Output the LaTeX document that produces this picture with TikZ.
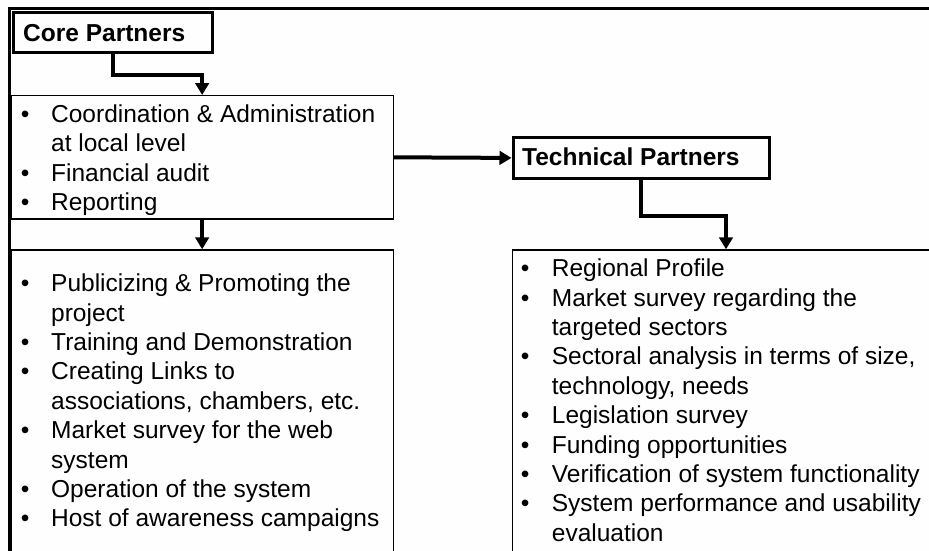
\documentclass[tikz,border=0pt]{standalone}
\usepackage{fontspec}
\setmainfont{Liberation Sans}
\usetikzlibrary{arrows.meta}
\definecolor{paper}{RGB}{254,254,254}
\tikzset{
  thinbox/.style={draw=black, line width=1.3pt, inner sep=0pt, anchor=north west},
  thickbox/.style={draw=black, line width=3pt, inner sep=0pt, anchor=north west},
  listtext/.style={inner sep=0pt, anchor=base west, font=\fontsize{24.5}{29.4}\selectfont},
  headtext/.style={inner sep=0pt, anchor=base west, font=\fontsize{24.5}{29.4}\selectfont\bfseries},
  conn/.style={line width=4pt, -{Triangle[length=12pt,width=13.5pt]}}
}
\begin{document}
\begin{tikzpicture}[x=1pt,y=1pt]
\useasboundingbox (0,0) rectangle (929,-550);
\fill[paper] (-10,10) rectangle (945,-570);
% outer frame
\draw[line width=3.5pt] (945,-8.5) -- (9.3,-8.5) -- (9.3,-570);
% boxes
\node[thickbox, minimum width=199pt, minimum height=40.3pt] (core) at (12,-11) {};
\node[thinbox, minimum width=382pt, minimum height=123.3pt] (coord) at (10.5,-95) {};
\node[thinbox, minimum width=382pt, minimum height=330pt] (ll) at (10.5,-249.3) {};
\node[thickbox, minimum width=256.5pt, minimum height=41.2pt] (tp) at (511.5,-135.8) {};
\node[thinbox, minimum width=427.3pt, minimum height=330pt] (rb) at (511.7,-249.3) {};
% headings
\node[headtext] (coretxt) at (23,-41.7) {Core Partners};
\node[headtext] (tptxt) at (522,-165) {Technical Partners};
% lists
\node[listtext] (coordtxt) at (20.7,-122.3) {\begin{tabular}[t]{@{}p{30.3pt}@{}l@{}}
\textbullet & Coordination \& Administration\\
 & at local level\\
\textbullet & Financial audit\\
\textbullet & Reporting
\end{tabular}};
\node[listtext] (lltxt) at (20.7,-291.7) {\begin{tabular}[t]{@{}p{30.3pt}@{}l@{}}
\textbullet & Publicizing \& Promoting the\\
 & project\\
\textbullet & Training and Demonstration\\
\textbullet & Creating Links to\\
 & associations, chambers, etc.\\
\textbullet & Market survey for the web\\
 & system\\
\textbullet & Operation of the system\\
\textbullet & Host of awareness campaigns
\end{tabular}};
\node[listtext] (rbtxt) at (520.7,-276.7) {\begin{tabular}[t]{@{}p{31pt}@{}l@{}}
\textbullet & Regional Profile\\
\textbullet & Market survey regarding the\\
 & targeted sectors\\
\textbullet & Sectoral analysis in terms of size,\\
 & technology, needs\\
\textbullet & Legislation survey\\
\textbullet & Funding opportunities\\
\textbullet & Verification of system functionality\\
\textbullet & System performance and usability\\
 & evaluation
\end{tabular}};
% connectors
\draw[conn] (core.south) -- ++(0,-20.4) -| (coord.north);
\draw[conn] (coord.south) -- (ll.north);
\draw[conn] (coord.east) -- (tp.west);
\draw[conn] (tp.south) -- ++(0,-36.3) -| (rb.north);
\end{tikzpicture}
\end{document}
